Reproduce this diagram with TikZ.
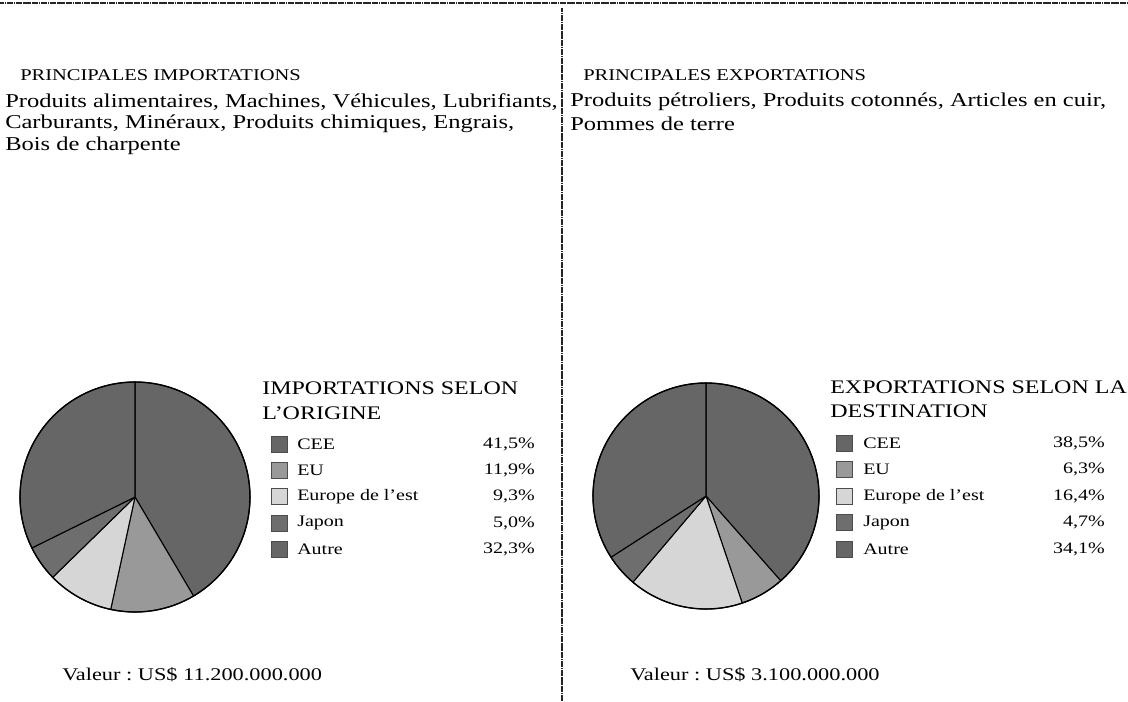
\documentclass[tikz,border=0pt]{standalone}
\usepackage{fontspec}
\setmainfont{Liberation Serif}[FakeStretch=1.25]
\begin{document}
\frenchspacing
\begin{tikzpicture}[x=0.75pt,y=-0.75pt,
  txt/.style={inner sep=0pt, anchor=west, font=\fontsize{14.7}{16}\selectfont},
  head/.style={inner sep=0pt, anchor=west, font=\fontsize{12.3}{14}\selectfont},
  legtitle/.style={inner sep=0pt, anchor=west, font=\fontsize{14.4}{16}\selectfont},
  legitem/.style={inner sep=0pt, anchor=west, font=\fontsize{12}{13}\selectfont},
  legpct/.style={inner sep=0pt, anchor=east, font=\fontsize{12}{13}\selectfont},
  legbox/.style={draw=black!70, line width=0.6pt, minimum size=12pt, inner sep=0pt},
  wedge/.style={draw=black, line width=0.8pt, line join=round},
  rule/.style={draw=black!85, line width=1.8pt, dash pattern=on 1.4pt off 0.3pt}]
\definecolor{cdark}{gray}{0.40}
\definecolor{cmid}{gray}{0.60}
\definecolor{clight}{gray}{0.84}
\definecolor{cjap}{gray}{0.43}
\useasboundingbox (0,0) rectangle (1128,701);
% rules
\coordinate (tl) at (0,3);
\coordinate (tr) at (1128,3);
\coordinate (vt) at (562,8);
\coordinate (vb) at (562,701);
\draw[rule] (tl) -- (tr);
\draw[rule] (vt) -- (vb);
% left column
\node[head] (hL) at (20,75) {PRINCIPALES IMPORTATIONS};
\node[txt] (bL1) at (5,102) {Produits alimentaires, Machines, Véhicules, Lubrifiants,};
\node[txt] (bL2) at (5,124) {Carburants, Minéraux, Produits chimiques, Engrais,};
\node[txt] (bL3) at (5,146) {Bois de charpente};
% right column
\node[head] (hR) at (583,75) {PRINCIPALES EXPORTATIONS};
\node[txt] (bR1) at (570,102) {Produits pétroliers, Produits cotonnés, Articles en cuir,};
\node[txt] (bR2) at (570,124) {Pommes de terre};
% left pie (y axis points down, so angles are negated)
\coordinate (pL) at (135,497);
\foreach \a/\b/\c in {-90/59.4/cdark, 59.4/102.2/cmid, 102.2/135.7/clight, 135.7/153.7/cjap, 153.7/270/cdark}
  \filldraw[wedge, fill=\c] (pL) -- ++(\a:115) arc[start angle=\a, end angle=\b, radius=115] -- cycle;
\draw[black, line width=1pt] (pL) circle[radius=115];
% right pie
\coordinate (pR) at (706,496);
\foreach \a/\b/\c in {-90/48.6/cdark, 48.6/71.3/cmid, 71.3/130.3/clight, 130.3/147.2/cjap, 147.2/270/cdark}
  \filldraw[wedge, fill=\c] (pR) -- ++(\a:113) arc[start angle=\a, end angle=\b, radius=113] -- cycle;
\draw[black, line width=1pt] (pR) circle[radius=113];
% left legend
\node[legtitle] (ltL1) at (262,388) {IMPORTATIONS SELON};
\node[legtitle] (ltL2) at (262,413) {L'ORIGINE};
\foreach \i/\lab/\pct/\c in {0/CEE/{41,5\%}/cdark, 1/EU/{11,9\%}/cmid, 2/Europe de l'est/{9,3\%}/clight, 3/Japon/{5,0\%}/cjap, 4/Autre/{32,3\%}/cdark}{
  \node[legbox, fill=\c] (lbL\i) at (279,444+26.3*\i) {};
  \node[legitem] (liL\i) at (297,444+26.3*\i) {\lab};
  \node[legpct] (lpL\i) at (535,444+26.3*\i) {\pct};
}
% right legend
\node[legtitle] (ltR1) at (830,387) {EXPORTATIONS SELON LA};
\node[legtitle] (ltR2) at (830,411) {DESTINATION};
\foreach \i/\lab/\pct/\c in {0/CEE/{38,5\%}/cdark, 1/EU/{6,3\%}/cmid, 2/Europe de l'est/{16,4\%}/clight, 3/Japon/{4,7\%}/cjap, 4/Autre/{34,1\%}/cdark}{
  \node[legbox, fill=\c] (lbR\i) at (844,443+26.6*\i) {};
  \node[legitem] (liR\i) at (863,443+26.6*\i) {\lab};
  \node[legpct] (lpR\i) at (1105,443+26.6*\i) {\pct};
}
% values
\node[txt, font=\fontsize{13.4}{15}\selectfont] (vL) at (62,675) {Valeur : US\$ 11.200.000.000};
\node[txt, font=\fontsize{13.4}{15}\selectfont] (vR) at (630,675) {Valeur : US\$ 3.100.000.000};
\end{tikzpicture}
\end{document}
